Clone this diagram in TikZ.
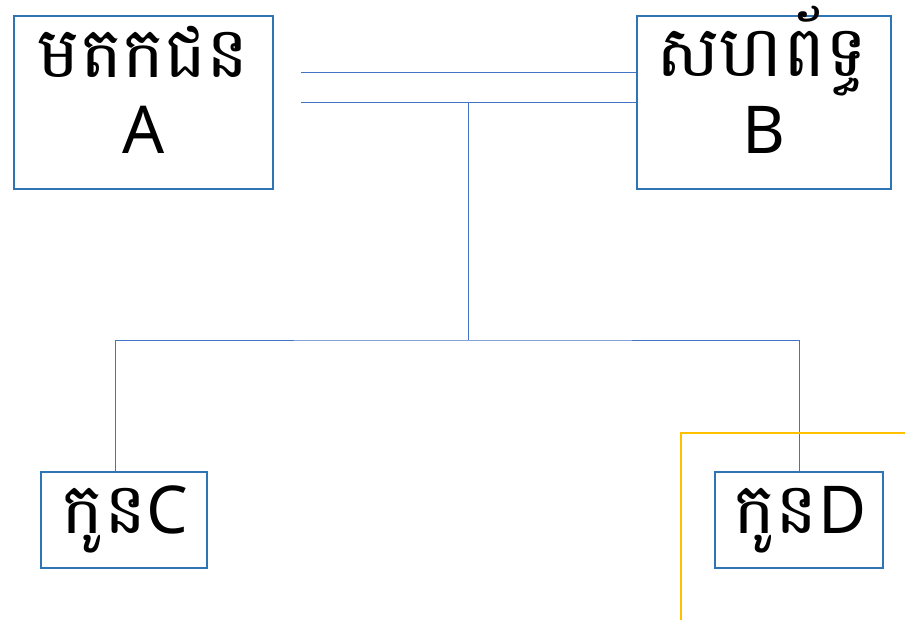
\documentclass[tikz,border=0pt]{standalone}
\usepackage{fontspec}
\newfontfamily\khmer[Script=Khmer,Scale=1.18]{Battambang}
\newfontfamily\lat[Scale=1.1]{Noto Sans}
\definecolor{boxblue}{HTML}{2E75B6}
\definecolor{lineblue}{HTML}{4472C4}
\definecolor{selyellow}{HTML}{FFC000}
\begin{document}
\begin{tikzpicture}[x=1pt,y=-1pt,
  person/.style={draw=boxblue,line width=1.6pt,inner sep=0pt},
  label/.style={anchor=base,inner sep=0pt,font=\fontsize{60}{76}\selectfont},
  upper/.style={label,text depth=6pt},
  lower/.style={label,text height=48pt},
  link/.style={draw=lineblue,line width=0.9pt},
  sel/.style={draw=selyellow,line width=2.4pt}]
\useasboundingbox (0,0) rectangle (905,620);
\node[person,minimum width=259pt,minimum height=173pt] (A) at (143.5,102.5) {};
\node[upper] (A1) at (143.5,78) {\khmer មតកជន};
\node[lower] (A2) at (143.5,154) {\lat A};
\node[person,minimum width=254pt,minimum height=173pt] (B) at (764,102.5) {};
\node[upper,text depth=20pt] (B1) at (762,77) {\khmer សហព័ទ្ធ};
\node[lower] (B2) at (764,154) {\lat B};
\node[person,minimum width=166pt,minimum height=96pt] (C) at (124,520) {};
\node[label] (C1) at (125,533) {{\khmer កូន}{\lat C}};
\node[person,minimum width=168pt,minimum height=96pt] (D) at (799,520) {};
\node[label] (D1) at (800,533) {{\khmer កូន}{\lat D}};
\coordinate (m1) at (301,72);
\coordinate (m2) at (301,102);
\coordinate (j) at (468,102);
\coordinate (bar) at (468,340);
\draw[link] (m1) -- (m1 -| B.west);
\draw[link] (m2) -- (m2 -| B.west);
\draw[link] (j) -- (bar);
\draw[link] (C.north -| 115,0) |- (bar) -| (D.north);
\coordinate (y1) at (681,620);
\coordinate (y2) at (681,433);
\coordinate (y3) at (905,433);
\draw[sel] (y1) -- (y2) -- (y3);
\end{tikzpicture}
\end{document}
